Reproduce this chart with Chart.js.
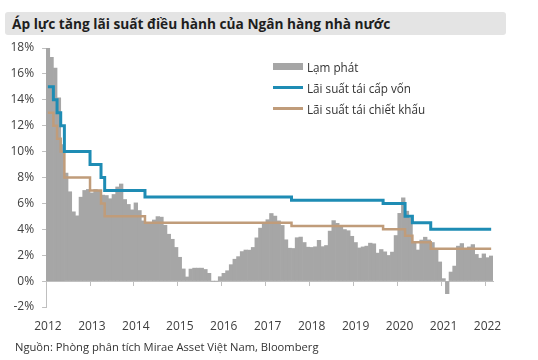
<!DOCTYPE html>
<html>
<head>
<meta charset="utf-8">
<script src="https://cdn.jsdelivr.net/npm/chart.js@4.4.1/dist/chart.umd.min.js"></script>
<style>
    body { margin: 0; background: #fff; font-family: 'Open Sans', sans-serif; }
    .wrap { position: relative; width: 538px; height: 360px; overflow: hidden; }
    .title {
        position: absolute; left: 5px; top: 12px; width: 494px; height: 23px;
        background: #e4e4e4; border-radius: 3px; padding-left: 7px;
        font-weight: bold; font-size: 13.7px; line-height: 23px; color: #1e1e1e;
    }
    .source { position: absolute; left: 15px; top: 339px; font-size: 11.2px; line-height: 16px; color: #333; }
    .legend { position: absolute; left: 273px; top: 56px; font-size: 11.7px; color: #333; }
    .legend div { display: flex; align-items: center; height: 21px; }
    .legend span.sw { display: inline-block; width: 30px; margin-right: 4px; }
</style>
</head>
<body>
<div class="wrap">
    <canvas id="chart" width="538" height="360"></canvas>
    <div class="title">Áp lực tăng lãi suất điều hành của Ngân hàng nhà nước</div>
    <div class="legend" id="legend"></div>
    <div class="source">Nguồn: Phòng phân tích Mirae Asset Việt Nam, Bloomberg</div>
</div>
<script>
// Dữ liệu theo tháng, từ 12/2011 đến 01/2022
const yearLabels = ['2012', '2013', '2014', '2015', '2016', '2017', '2018', '2019', '2020', '2021', '2022'];

const lamPhat = [
    18.13,
    17.27, 16.44, 14.15, 10.54, 8.34, 6.9, 5.35, 5.04, 6.48, 7.0, 7.08, 6.81,
    7.07, 7.02, 6.64, 6.61, 6.36, 6.69, 7.27, 7.5, 6.3, 5.92, 5.5, 6.04,
    5.45, 4.65, 4.39, 4.45, 4.72, 4.98, 4.94, 4.31, 3.62, 3.23, 2.6, 1.84,
    0.94, 0.32, 0.93, 1.0, 1.0, 1.0, 0.9, 0.6, 0.0, 0.0, 0.34, 0.6,
    0.8, 1.27, 1.69, 1.89, 2.28, 2.4, 2.39, 2.6, 3.34, 4.09, 4.5, 4.74,
    5.22, 5.02, 4.65, 4.3, 3.19, 2.54, 2.52, 3.35, 3.4, 2.98, 2.62, 2.6,
    2.65, 3.15, 2.66, 2.75, 3.86, 4.67, 4.46, 4.28, 3.98, 3.89, 3.46, 2.98,
    2.56, 2.64, 2.7, 2.93, 2.88, 2.16, 2.44, 2.26, 1.98, 2.24, 3.52, 5.23,
    6.43, 5.4, 4.87, 2.93, 2.4, 3.17, 3.39, 3.18, 2.98, 2.47, 1.48, 0.19,
    -0.97, 0.7, 1.16, 2.7, 2.9, 2.41, 2.64, 2.82, 2.06, 1.77, 2.1, 1.81,
    1.94
];

const taiCapVon = [
    15,
    15, 14, 13, 12, 10, 10, 10, 10, 10, 10, 10, 9,
    9, 9, 8, 7, 7, 7, 7, 7, 7, 7, 7, 7,
    7, 7, 6.5, 6.5, 6.5, 6.5, 6.5, 6.5, 6.5, 6.5, 6.5, 6.5,
    6.5, 6.5, 6.5, 6.5, 6.5, 6.5, 6.5, 6.5, 6.5, 6.5, 6.5, 6.5,
    6.5, 6.5, 6.5, 6.5, 6.5, 6.5, 6.5, 6.5, 6.5, 6.5, 6.5, 6.5,
    6.5, 6.5, 6.5, 6.5, 6.5, 6.5, 6.25, 6.25, 6.25, 6.25, 6.25, 6.25,
    6.25, 6.25, 6.25, 6.25, 6.25, 6.25, 6.25, 6.25, 6.25, 6.25, 6.25, 6.25,
    6.25, 6.25, 6.25, 6.25, 6.25, 6.25, 6.25, 6, 6, 6, 6, 6,
    6, 5, 5, 4.5, 4.5, 4.5, 4.5, 4.5, 4, 4, 4, 4,
    4, 4, 4, 4, 4, 4, 4, 4, 4, 4, 4, 4,
    4
];

const taiChietKhau = [
    13,
    13, 12, 11, 10, 8, 8, 8, 8, 8, 8, 8, 7,
    7, 7, 6, 5, 5, 5, 5, 5, 5, 5, 5, 5,
    5, 5, 4.5, 4.5, 4.5, 4.5, 4.5, 4.5, 4.5, 4.5, 4.5, 4.5,
    4.5, 4.5, 4.5, 4.5, 4.5, 4.5, 4.5, 4.5, 4.5, 4.5, 4.5, 4.5,
    4.5, 4.5, 4.5, 4.5, 4.5, 4.5, 4.5, 4.5, 4.5, 4.5, 4.5, 4.5,
    4.5, 4.5, 4.5, 4.5, 4.5, 4.5, 4.25, 4.25, 4.25, 4.25, 4.25, 4.25,
    4.25, 4.25, 4.25, 4.25, 4.25, 4.25, 4.25, 4.25, 4.25, 4.25, 4.25, 4.25,
    4.25, 4.25, 4.25, 4.25, 4.25, 4.25, 4.25, 4, 4, 4, 4, 4,
    4, 3.5, 3.5, 3, 3, 3, 3, 3, 2.5, 2.5, 2.5, 2.5,
    2.5, 2.5, 2.5, 2.5, 2.5, 2.5, 2.5, 2.5, 2.5, 2.5, 2.5, 2.5,
    2.5
];

// nhãn tháng
const months = [];
for (let i = 0; i < lamPhat.length; i++) {
    const m = (11 + i) % 12 + 1;
    const y = 2011 + Math.floor((11 + i) / 12);
    months.push(m + '/' + y);
}

const axisGrey = '#bfbfbf';
const textGrey = '#404040';

const ctx = document.getElementById('chart').getContext('2d');
const chart = new Chart(ctx, {
    type: 'bar',
    data: {
        labels: months,
        datasets: [
            {
                label: 'Lạm phát',
                data: lamPhat,
                backgroundColor: '#a6a6a6',
                borderWidth: 0,
                barPercentage: 1,
                categoryPercentage: 1,
                order: 3
            },
            {
                type: 'line',
                label: 'Lãi suất tái cấp vốn',
                data: taiCapVon,
                borderColor: '#1e8cb4',
                borderWidth: 3,
                stepped: 'middle',
                pointRadius: 0,
                fill: false,
                order: 1
            },
            {
                type: 'line',
                label: 'Lãi suất tái chiết khấu',
                data: taiChietKhau,
                borderColor: '#c09c7a',
                borderWidth: 2.5,
                stepped: 'middle',
                pointRadius: 0,
                fill: false,
                order: 2
            }
        ]
    },
    options: {
        responsive: false,
        animation: false,
        layout: { padding: { top: 48, right: 45, bottom: 53, left: 0 } },
        plugins: {
            legend: { display: false },
            tooltip: { enabled: false }
        },
        scales: {
            x: {
                position: { y: 0 },
                border: { display: true, color: axisGrey },
                grid: {
                    drawOnChartArea: false,
                    tickLength: 4,
                    tickColor: c => (c.index % 12 === 0 && c.index <= 120) ? axisGrey : 'rgba(0,0,0,0)'
                },
                ticks: {
                    autoSkip: false,
                    maxRotation: 0,
                    padding: 34,
                    color: textGrey,
                    font: { family: 'Open Sans', size: 12 },
                    callback: (v, i) => i % 12 === 0 ? yearLabels[i / 12] : ''
                }
            },
            y: {
                min: -2,
                max: 18,
                afterFit: s => { s.width = 42; },
                border: { display: true, color: axisGrey },
                grid: { drawOnChartArea: false, tickLength: 4, tickColor: axisGrey },
                ticks: {
                    stepSize: 2,
                    padding: 8,
                    color: textGrey,
                    font: { family: 'Open Sans', size: 12 },
                    callback: v => v + '%'
                }
            }
        }
    }
});

// chú thích
const legend = document.getElementById('legend');
chart.data.datasets.forEach(ds => {
    const row = document.createElement('div');
    const sw = document.createElement('span');
    sw.className = 'sw';
    if (ds.type === 'line') {
        sw.style.height = ds.borderWidth + 'px';
        sw.style.background = ds.borderColor;
    } else {
        sw.style.height = '7px';
        sw.style.background = ds.backgroundColor;
    }
    row.appendChild(sw);
    row.appendChild(document.createTextNode(ds.label));
    legend.appendChild(row);
});
</script>
</body>
</html>
